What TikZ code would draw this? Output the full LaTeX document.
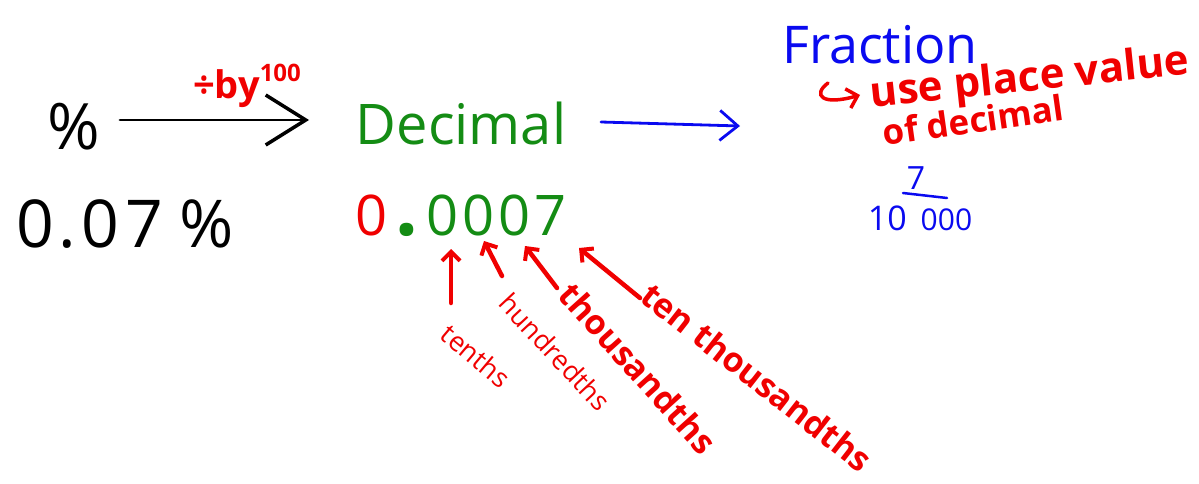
\documentclass[tikz,border=0pt]{standalone}
\usepackage{fontspec}
\setmainfont{Open Sans}
\usetikzlibrary{arrows.meta}
\definecolor{inkred}{RGB}{240,0,0}
\definecolor{inkgreen}{RGB}{20,140,20}
\definecolor{inkblue}{RGB}{10,10,240}
\newcommand{\fsz}[1]{\fontsize{#1}{#1}\selectfont}
\begin{document}
\begin{tikzpicture}[x=1pt,y=-1pt,
  lbl/.style={inner sep=0pt, anchor=center},
  blackarrow/.style={draw=black, line width=2.8pt, line cap=round,
    -{Straight Barb[length=40pt,width=50pt,line width=3.5pt]}},
  bluearrow/.style={draw=inkblue, line width=2.8pt, line cap=round,
    -{Straight Barb[length=18pt,width=30pt,line width=2.8pt]}},
  redarrow/.style={draw=inkred, line width=4.5pt, line cap=round,
    -{Straight Barb[length=9pt,width=18pt,line width=4pt]}},
  redtext/.style={lbl, text=inkred},
]
\useasboundingbox (0,0) rectangle (1199,484);
\fill[white] (0,0) rectangle (1199,484);

% top row
\node[lbl] (pct) at (74,127) {\fsz{64}\%};
\node[lbl, text=inkgreen] (dec) at (461,124) {\fsz{56}Decimal};
\node[lbl, text=inkblue] (frac) at (880,45) {\fsz{52}Fraction};

\coordinate (a1s) at (120,120);
\coordinate (a1e) at (309,120);
\draw[blackarrow] (a1s) -- (a1e);
\node[redtext] (divby) at (247,86) {\fsz{38}\bfseries ÷by\raisebox{17pt}{\fsz{24}\bfseries 100}};

\coordinate (b1s) at (601,122);
\coordinate (b1e) at (740,126);
\draw[bluearrow] (b1s) -- (b1e);

% use place value
\coordinate (hk1) at (828,83);
\coordinate (hk2) at (860,95);
\draw[draw=inkred, line width=3.5pt, line cap=round,
  -{Straight Barb[length=10pt,width=20pt,line width=3.5pt]}]
  (hk1) .. controls (812,95) and (822,106) .. (hk2);
\node[redtext, rotate=6] (upv) at (1030,80) {\fsz{42}\bfseries use place value};
\node[redtext, rotate=8] (ofd) at (973,120) {\fsz{35}\bfseries of decimal};

% values row
\node[lbl] (pctval) at (125,224) {\fsz{66}0\kern4pt.\kern6pt0\kern6pt7\kern16pt\%};
\node[lbl] (decval) at (461,216) {\fsz{56}\textcolor{inkred}{0}\kern8pt\textcolor{inkgreen}{{\fsz{80}\bfseries .}\kern8pt0\kern4pt0\kern4pt0\kern4pt7}};

% fraction 7/10000
\node[lbl, text=inkblue] (num) at (916,178) {\fsz{32}7};
\node[lbl, text=inkblue] (den) at (920,218) {\fsz{34}10\kern14pt{\fsz{30}000}};
\draw[inkblue, line width=2.5pt, line cap=round] (903,193) -- (947,198);

% place-value arrows
\coordinate (t1s) at (451,303); \coordinate (t1e) at (451,249);
\coordinate (h1s) at (502,276); \coordinate (h1e) at (484,241);
\coordinate (th1s) at (557,288); \coordinate (th1e) at (525,246);
\coordinate (tt1s) at (640,298); \coordinate (tt1e) at (579,248);
\draw[redarrow] (t1s) -- (t1e);
\draw[redarrow] (h1s) -- (h1e);
\draw[redarrow] (th1s) -- (th1e);
\draw[redarrow] (tt1s) -- (tt1e);

\node[redtext, rotate=-40] (tenths) at (476,356) {\fsz{27}tenths};
\node[redtext, rotate=-47] (hund) at (555,352) {\fsz{27}hundredths};
\node[redtext, rotate=-48] (thou) at (638,368) {\fsz{34}\bfseries thousandths};
\node[redtext, rotate=-38] (tenthou) at (757,377) {\fsz{34}\bfseries ten thousandths};
\end{tikzpicture}
\end{document}
